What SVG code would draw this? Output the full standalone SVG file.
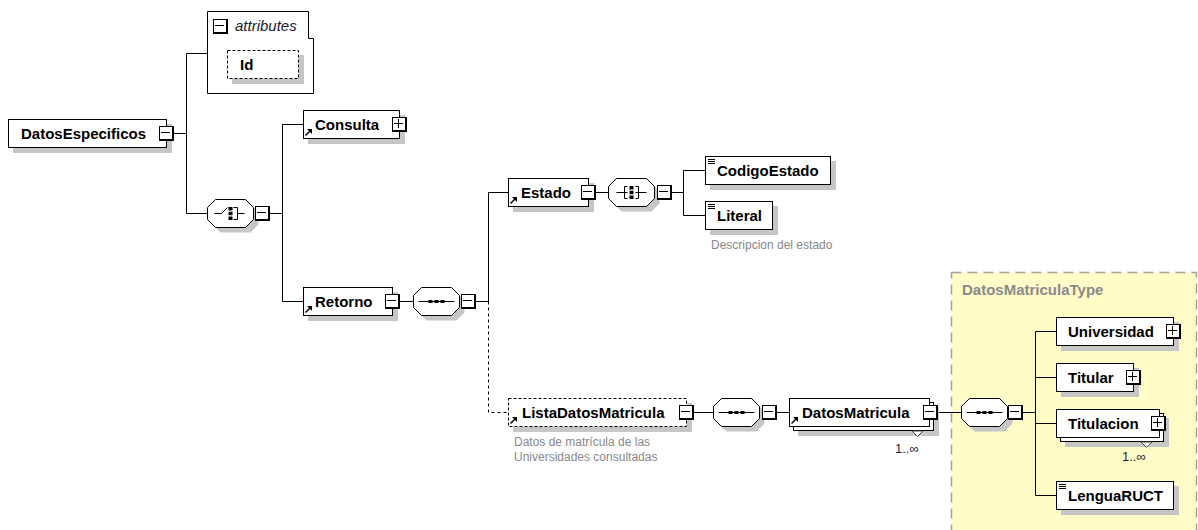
<svg xmlns="http://www.w3.org/2000/svg" xmlns:xlink="http://www.w3.org/1999/xlink" width="1198" height="530" viewBox="0 0 1198 530">
<style>
.box{fill:#fff;stroke:#000;stroke-width:1}
.dbox{fill:#fff;stroke:#000;stroke-width:1;stroke-dasharray:3,2}
.shadow{fill:#c6c6c6;stroke:none}
.lbl{font-family:"Liberation Sans",Arial,sans-serif;font-weight:bold;font-size:15px;fill:#000}
.ital{font-family:"Liberation Sans",Arial,sans-serif;font-style:italic;font-size:15px;fill:#1a1a2e}
.desc{font-family:"Liberation Sans",Arial,sans-serif;font-size:12px;fill:#888}
.occ{font-family:"Liberation Sans",Arial,sans-serif;font-size:13px;fill:#2a1a3a}
.conn{stroke:#000;stroke-width:1;fill:none}
.dash{stroke-dasharray:3,3}
.sym{stroke:#000;stroke-width:1;fill:none}
</style>
<defs>
<polygon id="oct" points="8,0 38,0 46,8 46,20 38,28 8,28 0,20 0,8"/>
<g id="minus"><rect width="15" height="15" fill="#000"/><rect x="1" y="1" width="12" height="12" fill="#fff"/><rect x="2" y="6" width="9" height="1" fill="#000"/></g>
<g id="plus"><rect width="15" height="15" fill="#000"/><rect x="1" y="1" width="12" height="12" fill="#fff"/><rect x="2" y="6" width="9" height="1" fill="#000"/><rect x="6" y="2" width="1" height="9" fill="#000"/></g>
<g id="ref"><path d="M0.5,7.5 L5,3" stroke="#000" stroke-width="1.4"/><polygon points="2,1 7,1 7,6" fill="#000"/></g>
<g id="elm" fill="#000"><rect width="7" height="1"/><rect y="2" width="7" height="1"/><rect y="4" width="7" height="1"/></g>
<g id="seq"><path class="sym" d="M-18,0 H18"/><rect x="-8" y="-1.5" width="4" height="3"/><rect x="-2" y="-1.5" width="4" height="3"/><rect x="4" y="-1.5" width="4" height="3"/></g>
<g id="choice"><path class="sym" d="M-16,0 H-9 L-3,-6"/><rect x="-2" y="-6.5" width="4" height="3.5"/><rect x="-2" y="-1.75" width="4" height="3.5"/><rect x="-2" y="3" width="4" height="3.5"/><path class="sym" d="M3,-6 H7 V6 H3 M7,0 H14"/></g>
<g id="all"><path class="sym" d="M-15,0 H-4 M-4,-6 H-7 V6 H-4"/><rect x="-2" y="-6.5" width="4" height="3.5"/><rect x="-2" y="-1.75" width="4" height="3.5"/><rect x="-2" y="3" width="4" height="3.5"/><path class="sym" d="M4,-6 H7 V6 H4 M4,0 H15"/></g>
</defs>

<g id="type-DatosMatriculaType">
<rect x="951.5" y="272.5" width="245" height="270" fill="#fffcc8" stroke="#a0a0a0" stroke-width="1.5" stroke-dasharray="10,6"/>
<text class="lbl" x="962" y="295" style="fill:#8a8a8a">DatosMatriculaType</text>
</g>

<g id="connectors">
<path class="conn" d="M174,133.5 H186.5 M186.5,53.5 V213.5 M186.5,53.5 H207.5 M186.5,213.5 H207.5"/>
<path class="conn" d="M270,213.5 H282.5 M282.5,124.5 V301.5 M282.5,124.5 H303.5 M282.5,301.5 H303.5"/>
<path class="conn" d="M400,301.5 H413.5 M476,301.5 H488.5 M488.5,192.5 V301.5 M488.5,192.5 H508.5"/>
<path class="conn dash" d="M488.5,301.5 V412.5 H508.5"/>
<path class="conn" d="M596,192.5 H608.5 M672,192.5 H683.5 M683.5,170.5 V215.5 M683.5,170.5 H705.5 M683.5,215.5 H705.5"/>
<path class="conn" d="M694,412.5 H713.5 M777,412.5 H789.5 M938,412.5 H961.5 M1023,412.5 H1035.5"/>
<path class="conn" d="M1035.5,331.5 V495.5 M1035.5,331.5 H1056.5 M1035.5,377.5 H1056.5 M1035.5,423.5 H1056.5 M1035.5,495.5 H1056.5"/>
</g>

<g id="node-DatosEspecificos">
<rect class="shadow" x="13" y="124" width="159" height="29"/>
<rect class="box" x="8.5" y="119.5" width="158" height="28"/>
<text class="lbl" x="21" y="139">DatosEspecificos</text>
<use xlink:href="#minus" x="159" y="126"/>
</g>

<g id="node-attributes">
<polygon points="207.5,11.5 308.5,11.5 308.5,38.5 313.5,38.5 313.5,93.5 207.5,93.5" fill="#fff" stroke="#000"/>
<use xlink:href="#minus" x="213" y="19"/>
<text class="ital" x="235" y="31">attributes</text>
</g>

<g id="node-Id">
<rect class="shadow" x="232" y="55" width="72" height="29"/>
<rect class="dbox" x="227.5" y="50.5" width="71" height="28"/>
<text class="lbl" x="240" y="70">Id</text>
</g>

<g id="node-choice1">
<use xlink:href="#oct" class="shadow" x="212.5" y="204.5"/>
<use xlink:href="#oct" class="box" x="207.5" y="199.5"/>
<use xlink:href="#choice" x="230.5" y="213.5"/>
<use xlink:href="#minus" x="255" y="206"/>
</g>

<g id="node-Consulta">
<rect class="shadow" x="308" y="115" width="97" height="29"/>
<rect class="box" x="303.5" y="110.5" width="96" height="28"/>
<use xlink:href="#ref" x="305" y="128"/>
<text class="lbl" x="315" y="130">Consulta</text>
<use xlink:href="#plus" x="392" y="117"/>
</g>

<g id="node-Retorno">
<rect class="shadow" x="308" y="292" width="90" height="29"/>
<rect class="box" x="303.5" y="287.5" width="89" height="28"/>
<use xlink:href="#ref" x="305" y="305"/>
<text class="lbl" x="315" y="307">Retorno</text>
<use xlink:href="#minus" x="385" y="294"/>
</g>

<g id="node-seq1">
<use xlink:href="#oct" class="shadow" x="418.5" y="292.5"/>
<use xlink:href="#oct" class="box" x="413.5" y="287.5"/>
<use xlink:href="#seq" x="436.5" y="301.5"/>
<use xlink:href="#minus" x="461" y="294"/>
</g>

<g id="node-Estado">
<rect class="shadow" x="513" y="183" width="81" height="29"/>
<rect class="box" x="508.5" y="178.5" width="80" height="28"/>
<use xlink:href="#ref" x="510" y="196"/>
<text class="lbl" x="521" y="198">Estado</text>
<use xlink:href="#minus" x="581" y="185"/>
</g>

<g id="node-all">
<use xlink:href="#oct" class="shadow" x="613.5" y="183.5"/>
<use xlink:href="#oct" class="box" x="608.5" y="178.5"/>
<use xlink:href="#all" x="631.5" y="192.5"/>
<use xlink:href="#minus" x="657" y="185"/>
</g>

<g id="node-CodigoEstado">
<rect class="shadow" x="710" y="161" width="126" height="29"/>
<rect class="box" x="705.5" y="156.5" width="125" height="28"/>
<use xlink:href="#elm" x="708" y="159"/>
<text class="lbl" x="717" y="176">CodigoEstado</text>
</g>

<g id="node-Literal">
<rect class="shadow" x="710" y="206" width="68" height="29"/>
<rect class="box" x="705.5" y="201.5" width="67" height="28"/>
<use xlink:href="#elm" x="708" y="204"/>
<text class="lbl" x="717" y="221">Literal</text>
<text class="desc" x="711" y="249">Descripcion del estado</text>
</g>

<g id="node-ListaDatosMatricula">
<rect class="shadow" x="513" y="403" width="179" height="29"/>
<rect class="dbox" x="508.5" y="398.5" width="178" height="28"/>
<use xlink:href="#ref" x="510" y="416"/>
<text class="lbl" x="522" y="418">ListaDatosMatricula</text>
<use xlink:href="#minus" x="679" y="405"/>
<text class="desc" x="514" y="446">Datos de matrícula de las</text>
<text class="desc" x="514" y="461">Universidades consultadas</text>
</g>

<g id="node-seq2">
<use xlink:href="#oct" class="shadow" x="718.5" y="403.5"/>
<use xlink:href="#oct" class="box" x="713.5" y="398.5"/>
<use xlink:href="#seq" x="736.5" y="412.5"/>
<use xlink:href="#minus" x="762" y="405"/>
</g>

<g id="node-DatosMatricula">
<rect class="shadow" x="798" y="407" width="141" height="29"/>
<rect class="box" x="793.5" y="402.5" width="140" height="28"/>
<rect class="box" x="789.5" y="398.5" width="140" height="28"/>
<use xlink:href="#ref" x="791" y="416"/>
<text class="lbl" x="802" y="418">DatosMatricula</text>
<use xlink:href="#minus" x="923" y="405"/>
<polygon points="912,431 923,431 917.5,436.5" fill="#fff" stroke="#444"/>
<text class="occ" x="895" y="453">1..∞</text>
</g>

<g id="node-seq3">
<use xlink:href="#oct" class="shadow" x="966.5" y="403.5"/>
<use xlink:href="#oct" class="box" x="961.5" y="398.5"/>
<use xlink:href="#seq" x="984.5" y="412.5"/>
<use xlink:href="#minus" x="1008" y="405"/>
</g>

<g id="node-Universidad">
<rect class="shadow" x="1061" y="322" width="118" height="29"/>
<rect class="box" x="1056.5" y="317.5" width="117" height="28"/>
<text class="lbl" x="1068" y="337">Universidad</text>
<use xlink:href="#plus" x="1166" y="324"/>
</g>

<g id="node-Titular">
<rect class="shadow" x="1061" y="368" width="78" height="29"/>
<rect class="box" x="1056.5" y="363.5" width="77" height="28"/>
<text class="lbl" x="1068" y="383">Titular</text>
<use xlink:href="#plus" x="1126" y="370"/>
</g>

<g id="node-Titulacion">
<rect class="shadow" x="1065" y="418" width="104" height="29"/>
<rect class="box" x="1060.5" y="413.5" width="103" height="28"/>
<rect class="box" x="1056.5" y="409.5" width="103" height="28"/>
<text class="lbl" x="1068" y="429">Titulacion</text>
<use xlink:href="#plus" x="1151" y="416"/>
<polygon points="1141,442 1152,442 1146.5,447.5" fill="#fff" stroke="#444"/>
<text class="occ" x="1122" y="461">1..∞</text>
</g>

<g id="node-LenguaRUCT">
<rect class="shadow" x="1061" y="486" width="118" height="29"/>
<rect class="box" x="1056.5" y="481.5" width="117" height="28"/>
<use xlink:href="#elm" x="1059" y="484"/>
<text class="lbl" x="1068" y="501">LenguaRUCT</text>
</g>
</svg>
